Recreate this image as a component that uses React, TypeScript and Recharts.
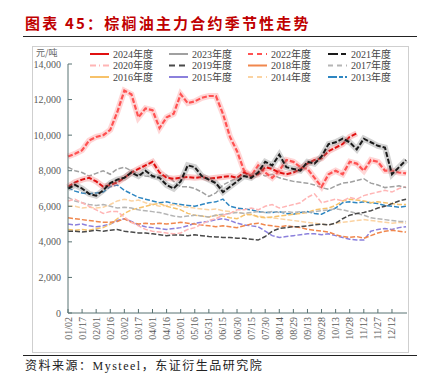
import { Line, LineChart, XAxis, YAxis } from "recharts";

// 棕榈油主力合约季节性走势 — one row every ~7.5 days, 01/02 .. 12/28

const days = [
  0, 7.5, 15, 22.5, 30, 37.5, 45, 52.5, 60, 67.5, 75, 82.5, 90, 97.5, 105, 112.5,
  120, 127.5, 135, 142.5, 150, 157.5, 165, 172.5, 180, 187.5, 195, 202.5, 210,
  217.5, 225, 232.5, 240, 247.5, 255, 262.5, 270, 277.5, 285, 292.5, 300, 307.5,
  315, 322.5, 330, 337.5, 345, 352.5, 360,
];

const tickDays = [0, 15, 30, 45, 60, 75, 90, 105, 120, 135, 150, 165, 180, 195, 210, 225, 240, 255, 270, 285, 300, 315, 330, 345];
const tickLabels = [
  "01/02", "01/17", "02/01", "02/16", "03/02", "03/17", "04/01", "04/16", "05/01", "05/16", "05/31", "06/15",
  "06/30", "07/15", "07/30", "08/14", "08/29", "09/13", "09/28", "10/13", "10/28", "11/12", "11/27", "12/12",
];
const yTicks = [0, 2000, 4000, 6000, 8000, 10000, 12000, 14000];

const y2024 = [
  7100, 7350, 7500, 7600, 7400, 7100, 7200, 7350, 7600, 7900, 8100, 8300, 8500, 7900, 7600, 7550,
  7600, 7650, 7600, 7650, 7550, 7600, 7650, 7700, 7600, 7900, 7700, 7800, 8200, 8100, 7900, 7800,
  7900, 8100, 8400, 8600, 8700, 9100, 9300, 9500, 9900, 10100, null, null, null, null, null, null, null,
];
const y2023 = [
  8200, 8000, 7900, 7700, 7850, 8000, 7800, 8100, 8200, 8000, 7800, 7700, 7650, 7700, 7750, 7400,
  7100, 7100, 7000, 6800, 6550, 6750, 7200, 7400, 7600, 7700, 7800, 7900, 7700, 7800, 7600, 7500,
  7400, 7350, 7300, 7200, 7050, 6950, 7150, 7300, 7350, 7450, 7550, 7300, 7200, 7050, 7100, 7150, 7050,
];
const y2022 = [
  8800, 8950, 9150, 9700, 9900, 10000, 10300, 11300, 12500, 12300, 11000, 11500, 11400, 10400, 11000, 11200,
  12300, 11800, 11900, 12100, 12200, 12200, 11200, 9900, 9100, 8000, 7700, 8300, 7900, 7600, 8000, 8600,
  8500, 8200, 8100, 7600, 7100, 7800, 8000, 7800, 8500, 8400, 8000, 8600, 8500, 8000, 8000, 7900, 7850,
];
const y2021 = [
  7000, 7200, 7000, 6700, 6600, 6900, 7300, 7500, 7600, 7900, 7700, 8000, 7700, 7600, 7200, 7000,
  7400, 8300, 8200, 7700, 7500, 7300, 6800, 7100, 7400, 7700, 7600, 7900, 8500, 8300, 8900, 8200,
  8100, 8000, 8500, 8400, 8800, 9500, 9600, 9800, 9600, 9200, 9800, 9600, 9400, 9300, 7800, 8200, 8600,
];
const y2020 = [
  6300, 6400, 6200, 6000, 5800, 5600, 5700, 5700, 5400, 5100, 4900, 4700, 4600, 4550, 4500, 4450,
  4500, 4700, 4800, 5000, 5200, 5300, 5500, 5600, 5800, 5800, 5900, 5800, 6000, 6100, 5900, 6000,
  6100, 6200, 6500, 6700, 6200, 6300, 6400, 6300, 6500, 6400, 6600, 6700, 6800, 6900, 6800, 7000, 7100,
];
const y2019 = [
  4600, 4600, 4550, 4600, 4650, 4600, 4650, 4700, 4600, 4550, 4500, 4500, 4450, 4400, 4350, 4400,
  4380, 4350, 4400, 4350, 4300, 4280, 4250, 4250, 4200, 4200, 4150, 4100, 4300, 4600, 4750, 4800,
  4850, 4850, 4900, 4950, 5000, 4950, 5050, 5300, 5500, 5600, 5650, 5750, 5900, 6000, 6150, 6300, 6400,
];
const y2018 = [
  5350, 5300, 5250, 5200, 5150, 5100, 5100, 5150, 5300, 5100, 5000, 5050, 5000, 5050, 5000, 5050,
  5100, 5050, 5000, 4950, 4900, 4850, 4900, 4850, 4800, 4900, 5000, 5050, 4950, 4900, 4850, 4900,
  4850, 4800, 4700, 4650, 4600, 4550, 4400, 4300, 4250, 4300, 4200, 4350, 4500, 4600, 4650, 4600, 4550,
];
const y2017 = [
  6500, 6300, 6200, 6100, 6050, 6100, 6000, 5900, 5950, 5900, 5800, 5750, 5700, 5650, 5550, 5450,
  5400, 5450, 5500, 5450, 5400, 5500, 5550, 5600, 5650, 5600, 5650, 5700, 5650, 5700, 5650, 5700,
  5650, 5700, 5650, 5700, 5750, 5800, 5850, 5800, 5700, 5600, 5500, 5350, 5300, 5250, 5200, 5150, 5150,
];
const y2016 = [
  4700, 4650, 4700, 4650, 4750, 4800, 5000, 5300, 5600, 5800, 5900, 6000, 6100, 6150, 6000, 5900,
  5800, 5600, 5500, 5450, 5400, 5500, 5450, 5350, 5300, 5500, 5550, 5400, 5350, 5400, 5450, 5500,
  5550, 5600, 5650, 5800, 5850, 5900, 6050, 6300, 6400, 6350, 6300, 6200, 6250, 6200, 6150, 6100, 6100,
];
const y2015 = [
  5000, 4950, 5000, 4900, 4850, 4900, 5000, 5200, 5300, 5150, 4950, 4850, 4800, 4750, 4700, 4750,
  4800, 4900, 5050, 5100, 5150, 5250, 5300, 5200, 5050, 4950, 4900, 4850, 4600, 4350, 4250, 4300,
  4350, 4400, 4450, 4450, 4400, 4450, 4350, 4250, 4150, 4100, 4100, 4600, 4700, 4750, 4700, 4800, 4850,
];
const y2014 = [
  6000, 6000, 5900, 5950, 5900, 5950, 6100, 6300, 6400, 6300, 6350, 6200, 6100, 6000, 6050, 6100,
  6000, 5950, 5900, 5850, 5800, 5850, 5750, 5700, 5650, 5600, 5500, 5450, 5400, 5350, 5300, 5250,
  5200, 5150, 5100, 5050, 5000, 4950, 5050, 5100, 5150, 5200, 5250, 5200, 5150, 5100, 5050, 5100, 5050,
];
const y2013 = [
  7050, 6850, 6750, 6700, 6750, 6800, 7100, 7200, 6900, 6700, 6500, 6400, 6300, 6200, 6250, 6150,
  6100, 6050, 6000, 6100, 6200, 6250, 6400, 6000, 5900, 5850, 5800, 5700, 5650, 5650, 5700, 5600,
  5550, 5650, 5700, 5600, 5550, 5750, 5900, 6200, 6250, 6200, 6250, 6200, 6150, 6050, 6000, 5950, 6000,
];

type S = { key: string; name: string; color: string; legendDash?: string; width: number; glow?: string };

// draw order: bottom first
const series: S[] = [
  { key: "y2013", name: "2013年度", color: "#2e86c1", legendDash: "9 2 4 2", width: 1.5 },
  { key: "y2014", name: "2014年度", color: "#fbd3a2", legendDash: "5 4", width: 1.5 },
  { key: "y2015", name: "2015年度", color: "#8b80dc", width: 1.5 },
  { key: "y2016", name: "2016年度", color: "#f7c26a", width: 1.5 },
  { key: "y2017", name: "2017年度", color: "#b5b5b5", legendDash: "5 4", width: 1.5 },
  { key: "y2018", name: "2018年度", color: "#f0874d", width: 1.5 },
  { key: "y2019", name: "2019年度", color: "#4a4a4a", legendDash: "6 4", width: 1.5 },
  { key: "y2020", name: "2020年度", color: "#ffb5b5", legendDash: "6 3 1 3", width: 1.5 },
  { key: "y2023", name: "2023年度", color: "#a0a0a0", width: 1.5 },
  { key: "y2022", name: "2022年度", color: "#ff5252", legendDash: "5 4", width: 2.2, glow: "#ff8a8a" },
  { key: "y2024", name: "2024年度", color: "#e01010", width: 2, glow: "#f07070" },
  { key: "y2021", name: "2021年度", color: "#1a1a1a", legendDash: "10 3 5 3", width: 2, glow: "#808080" },
];

const legendOrder = [
  "y2024", "y2023", "y2022", "y2021",
  "y2020", "y2019", "y2018", "y2017",
  "y2016", "y2015", "y2014", "y2013",
];

const columns: Record<string, (number | null)[]> = {
  y2024, y2023, y2022, y2021, y2020, y2019, y2018, y2017, y2016, y2015, y2014, y2013,
};

const data = days.map((d, i) => {
  const row: Record<string, number | null> = { day: d };
  for (const k of Object.keys(columns)) row[k] = columns[k][i];
  return row;
});

const serif = "'Liberation Serif', 'Noto Sans CJK SC', serif";
const cjk = "'Noto Sans CJK SC', sans-serif";
const axisColor = "#587272";

function XTick(props: any) {
  const { x, y, payload } = props;
  const idx = tickDays.indexOf(payload.value);
  return (
    <text
      x={x}
      y={y}
      transform={`rotate(-90 ${x} ${y})`}
      textAnchor="end"
      dominantBaseline="central"
      fontSize={10}
      fill="#5a5a5a"
      fontFamily={serif}
    >
      {tickLabels[idx]}
    </text>
  );
}

function LegendBox() {
  const colX = [90, 169, 248, 328];
  const rowY = [54, 65.5, 77];
  return (
    <svg width={427} height={90} style={{ position: "absolute", left: 0, top: 0 }}>
      {legendOrder.map((k, i) => {
        const s = series.find((q) => q.key === k)!;
        const x = colX[i % 4];
        const y = rowY[Math.floor(i / 4)];
        return (
          <g key={k}>
            <line x1={x} x2={x + 19} y1={y} y2={y} stroke={s.color} strokeWidth={2} strokeDasharray={s.legendDash} />
            <text x={x + 23} y={y} dominantBaseline="central" fontSize={10} fill="#444" fontFamily={serif}>
              {s.name}
            </text>
          </g>
        );
      })}
    </svg>
  );
}

export default function App() {
  return (
    <div style={{ position: "absolute", left: 0, top: 0, width: 427, height: 385, background: "#fff" }}>
      <div
        style={{
          position: "absolute",
          left: 25,
          top: 14,
          fontFamily: cjk,
          fontSize: 15,
          fontWeight: 700,
          color: "#c00000",
          letterSpacing: 2.2,
          lineHeight: "18px",
          whiteSpace: "nowrap",
        }}
      >
        图表 45：棕榈油主力合约季节性走势
      </div>
      <div style={{ position: "absolute", left: 23, top: 36, width: 394, height: 1, background: "#222" }} />
      <div
        style={{
          position: "absolute",
          left: 32,
          top: 46,
          width: 375,
          height: 305,
          border: "1px solid #cfcfcf",
        }}
      />
      <LineChart
        width={427}
        height={385}
        data={data}
        margin={{ top: 64, right: 20, left: 0, bottom: 42 }}
        style={{ position: "absolute", left: 0, top: 0 }}
      >
        <XAxis
          dataKey="day"
          type="number"
          domain={[0, 361]}
          ticks={tickDays}
          interval={0}
          height={30}
          tick={<XTick />}
          tickSize={-4}
          tickMargin={8}
          stroke={axisColor}
          tickLine={{ stroke: axisColor }}
        />
        <YAxis
          domain={[0, 14000]}
          ticks={yTicks}
          width={68}
          tickSize={-4}
          tickMargin={11}
          interval={0}
          stroke={axisColor}
          tickLine={{ stroke: axisColor }}
          tick={{ fontSize: 10, fill: "#5a5a5a", fontFamily: serif }}
          tickFormatter={(v: number) => v.toLocaleString("en-US")}
        />
        {series.flatMap((s) => {
          const out = [];
          if (s.glow)
            out.push(
              <Line
                key={s.key + "-glow"}
                dataKey={s.key}
                stroke={s.glow}
                strokeOpacity={0.35}
                strokeWidth={6}
                dot={false}
                activeDot={false}
                legendType="none"
                isAnimationActive={false}
              />
            );
          out.push(
            <Line
              key={s.key}
              dataKey={s.key}
              name={s.name}
              stroke={s.color}
              strokeWidth={s.width}
              strokeDasharray="5 2"
              dot={false}
              activeDot={false}
              isAnimationActive={false}
            />
          );
          return out;
        })}
      </LineChart>
      <LegendBox />
      <div
        style={{
          position: "absolute",
          left: 36,
          top: 48,
          fontFamily: cjk,
          fontSize: 9,
          color: "#666",
          lineHeight: "10px",
        }}
      >
        元/吨
      </div>
      <div style={{ position: "absolute", left: 23, top: 355, width: 394, height: 1, background: "#222" }} />
      <div
        style={{
          position: "absolute",
          left: 25,
          top: 358,
          fontSize: 12,
          color: "#222",
          letterSpacing: 1.5,
          lineHeight: "14px",
          whiteSpace: "nowrap",
          fontFamily: cjk,
        }}
      >
        资料来源：<span style={{ fontFamily: serif }}>Mysteel</span>，东证衍生品研究院
      </div>
    </div>
  );
}
